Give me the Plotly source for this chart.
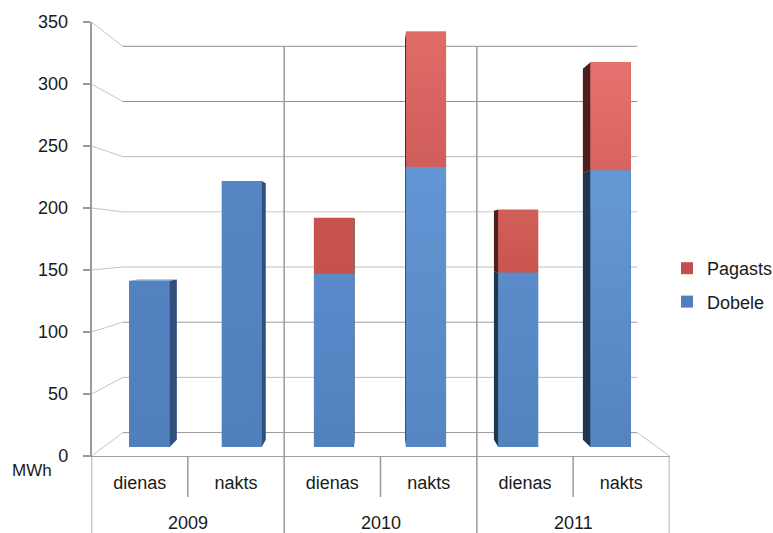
import plotly.graph_objects as go

# Energy use per period, MWh
years = ["2009", "2010", "2011"]
periods = ["dienas", "nakts", "dienas", "nakts", "dienas", "nakts"]
dobele = [140, 224, 146, 236, 147, 233]
pagasts = [0, 0, 47, 114, 53, 91]
y_ticks = [0, 50, 100, 150, 200, 250, 300, 350]

W, H = 773, 533
FONT = "Liberation Sans"
TEXT = "#1a1a1a"

# Face colours per bar: (top, bottom) of the lit face, then the side shade
blue_faces = [("#5282bf", "#5080bc"), ("#5585c2", "#5080bc"), ("#5a8aca", "#5181bd"),
              ("#6295d3", "#5586c3"), ("#5b8bc9", "#5383bf"), ("#6599d6", "#5483c0")]
red_faces = [("#c0504d", "#c0504d"), ("#c0504d", "#c0504d"), ("#c8534f", "#c6524e"),
             ("#e06c68", "#cf5d59"), ("#d2605a", "#c9544f"), ("#e6736f", "#d8635f")]
blue_sides = ["#2f4f7d", "#2f4f7d", "#2f4f7d", "#2f4f7d", "#20354e", "#20354e"]
red_sides = ["#5a2220", "#5a2220", "#5a2220", "#5a2220", "#4d1e1c", "#4d1e1c"]
grid_colours = ["#9a9a9a", "#bcbcbc", "#9c9c9c", "#bfbfbf", "#c8c8c8", "#b8b8b8", "#929292", "#929292"]

# Vanishing point of the 3-D box, in category / value units
VP_X, VP_Y = 2.454, 171.8
WALL_DEPTH = 0.89
BAR_DEPTH = 0.9645


def recede(x, y, s):
    return VP_X + (x - VP_X) * s, VP_Y + (y - VP_Y) * s


def px_x(p):
    return p / W


def px_y(p):
    return (H - p) / H


fig = go.Figure()

# Back wall, floor and the connectors running out to the front axis
LEFT, RIGHT = -0.5, 5.5
for v, col in zip(y_ticks, grid_colours):
    x0, y0 = recede(LEFT, v, WALL_DEPTH)
    x1, y1 = recede(RIGHT, v, WALL_DEPTH)
    fig.add_trace(go.Scatter(x=[x0, x1], y=[y0, y1], mode="lines", showlegend=False, hoverinfo="skip",
                             line=dict(color=col, width=1), xaxis="x", yaxis="y"))
    fig.add_trace(go.Scatter(x=[LEFT, x0], y=[v, y0], mode="lines", showlegend=False, hoverinfo="skip",
                             line=dict(color="#b5b5b5", width=0.8), xaxis="x", yaxis="y"))
x1, y1 = recede(RIGHT, 0, WALL_DEPTH)
fig.add_trace(go.Scatter(x=[RIGHT, x1], y=[0, y1], mode="lines", showlegend=False, hoverinfo="skip",
                         line=dict(color="#b5b5b5", width=0.8), xaxis="x", yaxis="y"))

# Stacked columns
fig.add_trace(go.Bar(name="Dobele", x=list(range(6)), y=dobele, xaxis="x2", yaxis="y2",
                     marker=dict(color=[f[1] for f in blue_faces], line=dict(width=0)),
                     legendgroup="d", legendrank=2))
fig.add_trace(go.Bar(name="Pagasts", x=list(range(6)), y=pagasts, xaxis="x2", yaxis="y2",
                     marker=dict(color=[f[1] for f in red_faces], line=dict(width=0)),
                     legendgroup="p", legendrank=1))

BAR_GAP = 0.566
half = (1 - BAR_GAP) / 2
for i in range(6):
    segments = [(0, dobele[i], blue_faces[i], blue_sides[i])]
    if pagasts[i]:
        segments.append((dobele[i], dobele[i] + pagasts[i], red_faces[i], red_sides[i]))
    # the side that faces the vanishing point is the visible one
    edge = i + half if i < VP_X else i - half
    for low, high, face, side in segments:
        bx0, by0 = recede(edge, low, BAR_DEPTH)
        bx1, by1 = recede(edge, high, BAR_DEPTH)
        fig.add_trace(go.Scatter(x=[edge, bx0, bx1, edge, edge], y=[low, by0, by1, high, low],
                                 mode="lines", fill="toself", fillcolor=side, line=dict(width=0),
                                 showlegend=False, hoverinfo="skip", xaxis="x2", yaxis="y2"))
        # soft vertical shading across the front face
        fig.add_trace(go.Scatter(x=[i - half, i + half, i + half, i - half, i - half],
                                 y=[low, low, high, high, low], mode="lines", fill="toself",
                                 line=dict(width=0), showlegend=False, hoverinfo="skip",
                                 fillgradient=dict(type="vertical",
                                                   colorscale=[[0, face[1]], [1, face[0]]]),
                                 xaxis="x2", yaxis="y2"))
    top = segments[-1][1]
    if top < VP_Y:
        # lid of a column that stands below eye level
        ax0, ay0 = recede(i - half, top, BAR_DEPTH)
        ax1, ay1 = recede(i + half, top, BAR_DEPTH)
        fig.add_trace(go.Scatter(x=[i - half, ax0, ax1, i + half, i - half], y=[top, ay0, ay1, top, top],
                                 mode="lines", fill="toself", fillcolor="#6f97cc", line=dict(width=0),
                                 showlegend=False, hoverinfo="skip", xaxis="x2", yaxis="y2"))

# Frame lines of the two-level category axis
AXIS = "#9a9a9a"
shapes = []
for x, top_px, bottom_px in [(-0.5, 456, 533), (5.5, 456, 533), (1.5, 46, 533), (3.5, 46, 533),
                             (0.5, 456, 497), (2.5, 456, 497), (4.5, 456, 497)]:
    shapes.append(dict(type="line", xref="x", yref="paper", x0=x, x1=x, y0=px_y(bottom_px), y1=px_y(top_px),
                       line=dict(color=AXIS, width=1.5)))

annotations = [dict(text=year, xref="x", yref="paper", x=2 * n + 0.5, y=px_y(523), showarrow=False,
                    xanchor="center", yanchor="middle", font=dict(family=FONT, size=18, color=TEXT))
               for n, year in enumerate(years)]
annotations.append(dict(text="MWh", xref="paper", yref="paper", x=px_x(31.5), y=px_y(470), showarrow=False,
                        xanchor="center", yanchor="middle", font=dict(family=FONT, size=17, color=TEXT)))

fig.update_layout(
    width=W, height=H, margin=dict(l=0, r=0, t=0, b=0, autoexpand=False),
    paper_bgcolor="white", plot_bgcolor="rgba(0,0,0,0)",
    barmode="stack", bargap=BAR_GAP,
    shapes=shapes, annotations=annotations,
    font=dict(family=FONT, size=18, color=TEXT),
    legend=dict(x=px_x(667), y=px_y(250), xanchor="left", yanchor="top",
                traceorder="grouped", tracegroupgap=7,
                bgcolor="rgba(0,0,0,0)", font=dict(family=FONT, size=18, color=TEXT)),
    xaxis=dict(domain=[px_x(91.5), px_x(669.5)], range=[LEFT, RIGHT], anchor="y",
               tickmode="array", tickvals=list(range(6)), ticktext=periods, ticks="",
               ticklabelstandoff=10, showgrid=False, zeroline=False,
               showline=True, linecolor="#a0a0a0", linewidth=1),
    yaxis=dict(domain=[px_y(456), px_y(22)], range=[0, 350], anchor="x",
               tickmode="array", tickvals=y_ticks, ticks="outside", ticklen=7, tickwidth=1.5,
               tickcolor=AXIS, ticklabelstandoff=11, showgrid=False, zeroline=False,
               showline=True, linecolor=AXIS, linewidth=1.5),
    xaxis2=dict(domain=[px_x(103.4), px_x(656.6)], range=[LEFT, RIGHT], anchor="y2",
                visible=False, fixedrange=True),
    yaxis2=dict(domain=[px_y(447), px_y(31.4)], range=[0, 350], anchor="x2",
                visible=False, fixedrange=True),
)

fig.write_html("out.html")
